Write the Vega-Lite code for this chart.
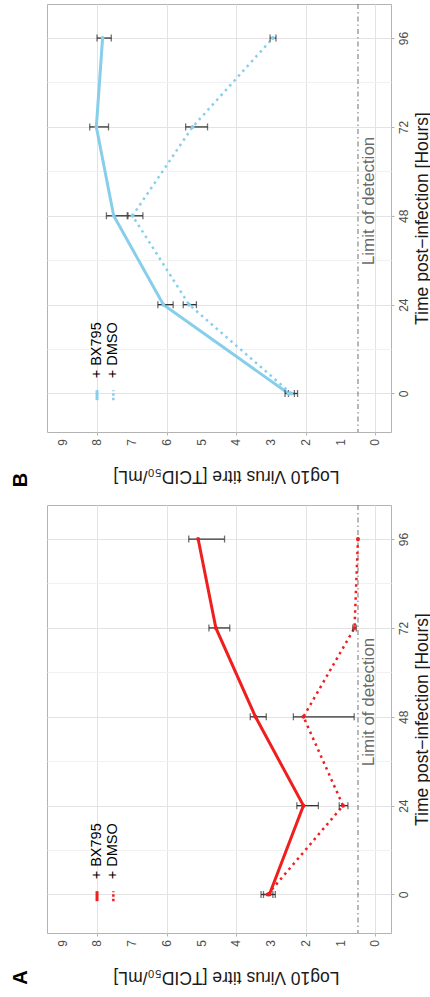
{
  "$schema": "https://vega.github.io/schema/vega-lite/v6.json",
  "padding": {"left": 10, "top": 3, "right": 0, "bottom": 0},
  "bounds": "flush",
  "spacing": 73,
  "config": {
    "font": "Liberation Sans",
    "view": {"stroke": "#b3b3b3", "strokeWidth": 1},
    "axis": {"domain": false, "tickColor": "#b3b3b3", "tickSize": 3, "labelColor": "#4d4d4d", "labelFontSize": 12, "titleFontSize": 17.5, "titleFontWeight": "normal", "titleColor": "#1a1a1a", "labelOverlap": false, "labelFlush": false, "gridWidth": 1}
  },
  "datasets": {
    "ticks": [{"tick": 0}, {"tick": 1}, {"tick": 2}, {"tick": 3}, {"tick": 4}, {"tick": 5}, {"tick": 6}, {"tick": 7}, {"tick": 8}, {"tick": 9}],
    "panelB": [
      {"treatment": "+ BX795", "time": 0, "mean": 2.5, "lo": 2.33, "hi": 2.6},
      {"treatment": "+ BX795", "time": 24, "mean": 6.1, "lo": 5.82, "hi": 6.26},
      {"treatment": "+ BX795", "time": 48, "mean": 7.53, "lo": 7.14, "hi": 7.74},
      {"treatment": "+ BX795", "time": 72, "mean": 8.03, "lo": 7.68, "hi": 8.22},
      {"treatment": "+ BX795", "time": 96, "mean": 7.85, "lo": 7.6, "hi": 8.01},
      {"treatment": "+ DMSO", "time": 0, "mean": 2.42, "lo": 2.24, "hi": 2.5},
      {"treatment": "+ DMSO", "time": 24, "mean": 5.36, "lo": 5.15, "hi": 5.53},
      {"treatment": "+ DMSO", "time": 48, "mean": 6.99, "lo": 6.69, "hi": 7.12},
      {"treatment": "+ DMSO", "time": 72, "mean": 5.26, "lo": 4.83, "hi": 5.46},
      {"treatment": "+ DMSO", "time": 96, "mean": 2.95, "lo": 2.86, "hi": 3.03}
    ],
    "panelA": [
      {"treatment": "+ BX795", "time": 0, "mean": 3.05, "lo": 2.88, "hi": 3.29},
      {"treatment": "+ BX795", "time": 24, "mean": 2.07, "lo": 1.64, "hi": 2.26},
      {"treatment": "+ BX795", "time": 48, "mean": 3.45, "lo": 3.14, "hi": 3.6},
      {"treatment": "+ BX795", "time": 72, "mean": 4.59, "lo": 4.19, "hi": 4.79},
      {"treatment": "+ BX795", "time": 96, "mean": 5.1, "lo": 4.34, "hi": 5.37},
      {"treatment": "+ DMSO", "time": 0, "mean": 3.1, "lo": 2.95, "hi": 3.22},
      {"treatment": "+ DMSO", "time": 24, "mean": 0.93, "lo": 0.79, "hi": 1.04},
      {"treatment": "+ DMSO", "time": 48, "mean": 2.07, "lo": 0.61, "hi": 2.36},
      {"treatment": "+ DMSO", "time": 72, "mean": 0.6, "lo": 0.55, "hi": 0.65},
      {"treatment": "+ DMSO", "time": 96, "mean": 0.5, "lo": null, "hi": null}
    ]
  },
  "vconcat": [
    {
      "width": 344, "height": 428,
      "data": {"name": "panelB"},
      "layer": [
        {
          "mark": {"type": "line", "strokeWidth": 3, "color": "#87CEEB"},
          "transform": [{"filter": "datum.treatment === '+ BX795'"}],
          "encoding": {
            "x": {"field": "mean", "type": "quantitative",
              "scale": {"domain": [-0.45, 9.45], "reverse": true, "nice": false, "zero": false},
              "axis": {"title": "Log10 Virus titre [TCID₅₀/mL]", "orient": "bottom", "values": [0,0.5,1,1.5,2,2.5,3,3.5,4,4.5,5,5.5,6,6.5,7,7.5,8,8.5,9], "labels": false, "tickOpacity": {"condition": {"test": "datum.value % 1 !== 0", "value": 0}, "value": 1}, "gridColor": {"condition": {"test": "datum.value % 1 !== 0", "value": "#f1f1f1"}, "value": "#e3e3e3"}, "titleAngle": 180, "titleBaseline": "bottom", "titlePadding": 29, "titleY": 34, "titleX": 179}
            },
            "y": {"field": "time", "type": "quantitative",
              "scale": {"domain": [-10.4, 105.2], "nice": false, "zero": false},
              "axis": {"title": "Time post−infection [Hours]", "orient": "right", "values": [0,12,24,36,48,60,72,84,96], "labelExpr": "datum.value % 24 === 0 ? datum.label : ''", "labelAngle": 270, "labelAlign": "center", "labelBaseline": "top", "labelPadding": 4, "tickOpacity": {"condition": {"test": "datum.value % 24 !== 0", "value": 0}, "value": 1}, "gridColor": {"condition": {"test": "datum.value % 24 !== 0", "value": "#f1f1f1"}, "value": "#e3e3e3"}, "titleAngle": 270, "titleBaseline": "top", "titlePadding": 4}
            },
            "order": {"field": "time", "type": "quantitative"}
          }
        },
        {
          "data": {"name": "ticks"},
          "mark": {"type": "text", "angle": 270, "align": "right", "baseline": "middle", "dx": -7, "fontSize": 12, "color": "#4d4d4d"},
          "encoding": {"x": {"field": "tick", "type": "quantitative"}, "y": {"datum": -10.4}, "text": {"field": "tick", "type": "quantitative"}}
        },
        {
          "data": {"values": [{}]},
          "mark": {"type": "rule", "color": "#707070", "strokeWidth": 1, "strokeDash": [5, 3, 1.5, 3]},
          "encoding": {"x": {"datum": 0.5, "type": "quantitative"}}
        },
        {
          "mark": {"type": "line", "strokeWidth": 2.5, "strokeDash": [2.5, 4], "color": "#87CEEB"},
          "transform": [{"filter": "datum.treatment === '+ DMSO'"}],
          "encoding": {
            "x": {"field": "mean", "type": "quantitative"},
            "y": {"field": "time", "type": "quantitative"},
            "order": {"field": "time", "type": "quantitative"}
          }
        },
        {
          "mark": {"type": "rule", "color": "#333333", "strokeWidth": 1.3},
          "encoding": {
            "x": {"field": "lo", "type": "quantitative"},
            "x2": {"field": "hi"},
            "y": {"field": "time", "type": "quantitative"}
          }
        },
        {
          "mark": {"type": "tick", "orient": "vertical", "size": 7, "thickness": 1.3, "color": "#333333"},
          "encoding": {
            "x": {"field": "lo", "type": "quantitative"},
            "y": {"field": "time", "type": "quantitative"}
          }
        },
        {
          "mark": {"type": "tick", "orient": "vertical", "size": 7, "thickness": 1.3, "color": "#333333"},
          "encoding": {
            "x": {"field": "hi", "type": "quantitative"},
            "y": {"field": "time", "type": "quantitative"}
          }
        },
        {
          "mark": {"type": "point", "filled": true, "size": 16, "opacity": 1, "color": "#87CEEB"},
          "encoding": {
            "x": {"field": "mean", "type": "quantitative"},
            "y": {"field": "time", "type": "quantitative"}
          }
        },
        {
          "data": {"values": [{}]},
          "mark": {"type": "text", "text": "Limit of detection", "angle": 270, "fontSize": 17, "color": "#6a6a6a", "align": "center", "baseline": "middle"},
          "encoding": {"x": {"datum": 0.19}, "y": {"datum": 52}}
        },
        {
          "data": {"values": [{}]},
          "mark": {"type": "rule", "strokeWidth": 3, "color": "#87CEEB"},
          "encoding": {"x": {"datum": 8.01}, "y": {"datum": -1.8}, "y2": {"datum": 0.9}}
        },
        {
          "data": {"values": [{}]},
          "mark": {"type": "rule", "strokeWidth": 2.5, "strokeDash": [2.5, 2], "color": "#87CEEB"},
          "encoding": {"x": {"datum": 7.54}, "y": {"datum": -1.8}, "y2": {"datum": 0.9}}
        },
        {
          "data": {"values": [{}]},
          "mark": {"type": "text", "text": "+ BX795", "angle": 270, "fontSize": 14.5, "color": "#000000", "align": "left", "baseline": "middle"},
          "encoding": {"x": {"datum": 8.01}, "y": {"datum": 4.1}}
        },
        {
          "data": {"values": [{}]},
          "mark": {"type": "text", "text": "+ DMSO", "angle": 270, "fontSize": 14.5, "color": "#000000", "align": "left", "baseline": "middle"},
          "encoding": {"x": {"datum": 7.54}, "y": {"datum": 4.1}}
        },
        {
          "data": {"values": [{}]},
          "mark": {"type": "text", "text": "B", "angle": 270, "fontSize": 20, "fontWeight": "bold", "color": "#000000", "align": "center", "baseline": "middle"},
          "encoding": {"x": {"datum": 10.2}, "y": {"datum": -23.4}}
        }
      ]
    },
    {
      "width": 344, "height": 428,
      "data": {"name": "panelA"},
      "layer": [
        {
          "mark": {"type": "line", "strokeWidth": 3, "color": "#F01E1E"},
          "transform": [{"filter": "datum.treatment === '+ BX795'"}],
          "encoding": {
            "x": {"field": "mean", "type": "quantitative",
              "scale": {"domain": [-0.45, 9.45], "reverse": true, "nice": false, "zero": false},
              "axis": {"title": "Log10 Virus titre [TCID₅₀/mL]", "orient": "bottom", "values": [0,0.5,1,1.5,2,2.5,3,3.5,4,4.5,5,5.5,6,6.5,7,7.5,8,8.5,9], "labels": false, "tickOpacity": {"condition": {"test": "datum.value % 1 !== 0", "value": 0}, "value": 1}, "gridColor": {"condition": {"test": "datum.value % 1 !== 0", "value": "#f1f1f1"}, "value": "#e3e3e3"}, "titleAngle": 180, "titleBaseline": "bottom", "titlePadding": 29, "titleY": 34, "titleX": 179}
            },
            "y": {"field": "time", "type": "quantitative",
              "scale": {"domain": [-10.4, 105.2], "nice": false, "zero": false},
              "axis": {"title": "Time post−infection [Hours]", "orient": "right", "values": [0,12,24,36,48,60,72,84,96], "labelExpr": "datum.value % 24 === 0 ? datum.label : ''", "labelAngle": 270, "labelAlign": "center", "labelBaseline": "top", "labelPadding": 4, "tickOpacity": {"condition": {"test": "datum.value % 24 !== 0", "value": 0}, "value": 1}, "gridColor": {"condition": {"test": "datum.value % 24 !== 0", "value": "#f1f1f1"}, "value": "#e3e3e3"}, "titleAngle": 270, "titleBaseline": "top", "titlePadding": 4}
            },
            "order": {"field": "time", "type": "quantitative"}
          }
        },
        {
          "data": {"name": "ticks"},
          "mark": {"type": "text", "angle": 270, "align": "right", "baseline": "middle", "dx": -7, "fontSize": 12, "color": "#4d4d4d"},
          "encoding": {"x": {"field": "tick", "type": "quantitative"}, "y": {"datum": -10.4}, "text": {"field": "tick", "type": "quantitative"}}
        },
        {
          "data": {"values": [{}]},
          "mark": {"type": "rule", "color": "#707070", "strokeWidth": 1, "strokeDash": [5, 3, 1.5, 3]},
          "encoding": {"x": {"datum": 0.5, "type": "quantitative"}}
        },
        {
          "mark": {"type": "line", "strokeWidth": 2.5, "strokeDash": [2.5, 4], "color": "#F01E1E"},
          "transform": [{"filter": "datum.treatment === '+ DMSO'"}],
          "encoding": {
            "x": {"field": "mean", "type": "quantitative"},
            "y": {"field": "time", "type": "quantitative"},
            "order": {"field": "time", "type": "quantitative"}
          }
        },
        {
          "mark": {"type": "rule", "color": "#333333", "strokeWidth": 1.3},
          "encoding": {
            "x": {"field": "lo", "type": "quantitative"},
            "x2": {"field": "hi"},
            "y": {"field": "time", "type": "quantitative"}
          }
        },
        {
          "mark": {"type": "tick", "orient": "vertical", "size": 7, "thickness": 1.3, "color": "#333333"},
          "encoding": {
            "x": {"field": "lo", "type": "quantitative"},
            "y": {"field": "time", "type": "quantitative"}
          }
        },
        {
          "mark": {"type": "tick", "orient": "vertical", "size": 7, "thickness": 1.3, "color": "#333333"},
          "encoding": {
            "x": {"field": "hi", "type": "quantitative"},
            "y": {"field": "time", "type": "quantitative"}
          }
        },
        {
          "mark": {"type": "point", "filled": true, "size": 16, "opacity": 1, "color": "#F01E1E"},
          "encoding": {
            "x": {"field": "mean", "type": "quantitative"},
            "y": {"field": "time", "type": "quantitative"}
          }
        },
        {
          "data": {"values": [{}]},
          "mark": {"type": "text", "text": "Limit of detection", "angle": 270, "fontSize": 17, "color": "#6a6a6a", "align": "center", "baseline": "middle"},
          "encoding": {"x": {"datum": 0.19}, "y": {"datum": 52}}
        },
        {
          "data": {"values": [{}]},
          "mark": {"type": "rule", "strokeWidth": 3, "color": "#F01E1E"},
          "encoding": {"x": {"datum": 8.01}, "y": {"datum": -1.8}, "y2": {"datum": 0.9}}
        },
        {
          "data": {"values": [{}]},
          "mark": {"type": "rule", "strokeWidth": 2.5, "strokeDash": [2.5, 2], "color": "#F01E1E"},
          "encoding": {"x": {"datum": 7.54}, "y": {"datum": -1.8}, "y2": {"datum": 0.9}}
        },
        {
          "data": {"values": [{}]},
          "mark": {"type": "text", "text": "+ BX795", "angle": 270, "fontSize": 14.5, "color": "#000000", "align": "left", "baseline": "middle"},
          "encoding": {"x": {"datum": 8.01}, "y": {"datum": 4.1}}
        },
        {
          "data": {"values": [{}]},
          "mark": {"type": "text", "text": "+ DMSO", "angle": 270, "fontSize": 14.5, "color": "#000000", "align": "left", "baseline": "middle"},
          "encoding": {"x": {"datum": 7.54}, "y": {"datum": 4.1}}
        },
        {
          "data": {"values": [{}]},
          "mark": {"type": "text", "text": "A", "angle": 270, "fontSize": 20, "fontWeight": "bold", "color": "#000000", "align": "center", "baseline": "middle"},
          "encoding": {"x": {"datum": 10.2}, "y": {"datum": -22.4}}
        }
      ]
    }
  ]
}
